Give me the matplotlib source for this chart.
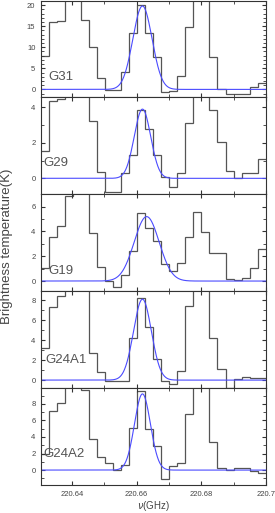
import numpy as np
import matplotlib
matplotlib.use('Agg')
import matplotlib.pyplot as plt
from matplotlib.ticker import MultipleLocator, FuncFormatter

plt.rcParams['font.family'] = ['Liberation Sans', 'DejaVu Sans']

# Channel grid of the spectra (GHz)
chan_start = 220.6305
chan_width = 0.002478
n_chan = 28

sources = ['G31', 'G29', 'G19', 'G24A1', 'G24A2']

t_g31 = [7.9, 15.9, 16.3, 25.0, 25.0, 16.5, 10.1, 2.6, -0.1, -0.1, 4.2, 13.5, 20.1, 13.3,
         7.8, -0.7, -0.3, 3.3, 14.8, 26.0, 26.0, 7.8, 0.0, -1.0, -1.2, -1.2, 0.5, 1.6]
t_g29 = [1.54, 4.37, 4.45, 5.0, 5.5, 5.0, 3.24, 0.37, -0.75, -0.75, 0.28, 1.31, 3.85, 2.76,
         1.31, 0.06, -0.47, 0.28, 3.13, 6.0, 6.0, 3.85, 2.06, 0.41, 0.0, 0.3, 0.3, 1.1]
t_g19 = [1.07, 3.57, 4.46, 6.9, 7.5, 7.5, 3.85, 1.15, 0.0, -0.46, 0.48, 2.42, 5.46, 4.3,
         3.23, 1.35, 0.81, 1.48, 3.57, 5.54, 3.93, 2.28, 2.23, 0.14, 0.05, 0.27, 1.02, 2.58]
t_g24a1 = [3.17, 7.33, 8.4, 9.5, 9.5, 9.5, 2.67, 0.77, -0.1, -0.1, -0.1, 4.23, 8.17, 5.27,
           2.07, -0.1, -0.4, 0.9, 7.43, 10.0, 10.0, 4.23, 1.1, -0.83, 0.07, 0.27, 0.17, 0.17]
t_g24a2 = [1.94, 7.19, 8.12, 11.0, 11.0, 9.67, 3.79, 1.53, 0.85, 0.04, 0.65, 5.09, 9.53, 5.0,
           2.95, -1.09, 0.44, 0.85, 6.79, 11.0, 11.0, 3.39, 0.24, 0.04, 0.24, 0.24, -0.17, -0.36]
spectra = [t_g31, t_g29, t_g19, t_g24a1, t_g24a2]

# Gaussian fit: peak (K), centre (GHz), FWHM (GHz)
fit_peak = [19.8, 3.9, 5.2, 8.1, 9.2]
fit_centre = [220.6618, 220.6618, 220.6631, 220.6618, 220.6618]
fit_fwhm = [0.0070, 0.0060, 0.0091, 0.0065, 0.0058]

# panel layout
ylims = [(-1.9, 21.1), (-0.9, 4.56), (-0.82, 7.0), (-0.8, 8.9), (-1.8, 9.9)]
ymajor = [5, 2, 2, 2, 2]
label_pos = [(0.031, 0.21), (0.009, 0.32), (0.031, 0.21), (0.018, 0.285), (0.009, 0.32)]

fig, axes = plt.subplots(5, 1, sharex=True, figsize=(2.75, 5.13))
fig.subplots_adjust(left=0.149, right=0.967, top=0.999, bottom=0.0546, hspace=0)

edges = chan_start + chan_width * np.arange(n_chan + 1)
x_fit = np.linspace(220.625, 220.705, 1000)

for i, ax in enumerate(axes):
    ax.stairs(spectra[i], edges, baseline=None, color='#555555', lw=0.9)
    y_fit = fit_peak[i] * np.exp(-4 * np.log(2) * ((x_fit - fit_centre[i]) / fit_fwhm[i]) ** 2)
    ax.plot(x_fit, y_fit, color='#4b4bff', lw=0.8)

    ax.set_xlim(220.6304, 220.70)
    ax.set_ylim(ylims[i])
    ax.yaxis.set_major_locator(MultipleLocator(ymajor[i]))
    ax.yaxis.set_minor_locator(MultipleLocator(1))
    ax.xaxis.set_major_locator(MultipleLocator(0.02))
    ax.xaxis.set_minor_locator(MultipleLocator(0.01))
    ax.tick_params(which='both', direction='in', top=True, right=True,
                   labelsize=5.5, labelcolor='#444444', color='#333333', pad=4)
    ax.tick_params(which='major', length=3)
    ax.tick_params(which='minor', length=2)
    for sp in ax.spines.values():
        sp.set_color('#333333')
        sp.set_linewidth(0.8)

    ax.text(label_pos[i][0], label_pos[i][1], sources[i], transform=ax.transAxes,
            ha='left', va='center', fontsize=9.5, color='#555555')

axes[-1].xaxis.set_major_formatter(FuncFormatter(lambda v, p: '%g' % round(v, 4)))
axes[-1].set_xlabel(r'$\nu$(GHz)', fontsize=7, color='#444444', labelpad=1)

fig.text(0.027, 0.52, 'Brightness temperature(K)', rotation=90, ha='center', va='center',
         fontsize=9.5, color='#444444')

fig.savefig('out.png', dpi=100)
